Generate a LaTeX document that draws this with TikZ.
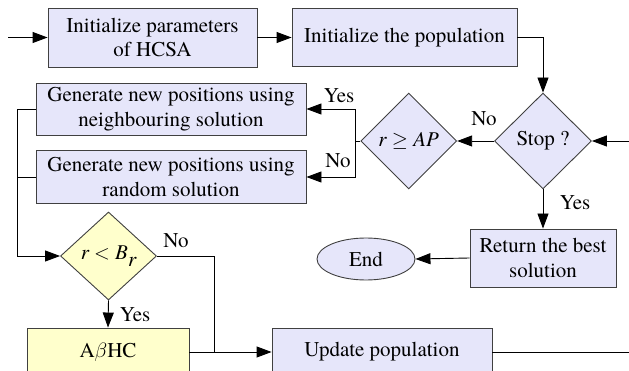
\documentclass[tikz,border=0pt]{standalone}
\usepackage{fontspec}
\setmainfont{texgyretermes}[Extension=.otf, UprightFont=*-regular,
  ItalicFont=*-italic, BoldFont=*-bold, BoldItalicFont=*-bolditalic]
\usetikzlibrary{shapes.geometric,arrows.meta}
\definecolor{boxfill}{RGB}{230,230,250}
\definecolor{yelfill}{RGB}{255,255,204}
\definecolor{edge}{RGB}{64,64,64}
\tikzset{
  base/.style={draw=edge, line width=0.9pt, inner sep=0pt, align=center,
    font=\fontsize{21}{24.5}\selectfont},
  procbox/.style={base, rectangle, fill=boxfill},
  yelbox/.style={base, rectangle, fill=yelfill},
  decide/.style={base, diamond, fill=boxfill},
  yeldecide/.style={base, diamond, fill=yelfill},
  term/.style={base, ellipse, fill=boxfill},
  lbl/.style={font=\fontsize{21}{24.5}\selectfont, inner sep=0pt, anchor=base},
  flow/.style={line width=0.9pt, -{Triangle[length=15pt,width=11pt]}},
  wire/.style={line width=0.9pt}
}
\begin{document}
\begin{tikzpicture}[x=1pt,y=-1pt]
\useasboundingbox (0,0) rectangle (629,371);
\clip (0,0) rectangle (629,371);

% process boxes
\node[procbox, minimum width=209pt, minimum height=59pt] (init) at (152.5,37.5) {Initialize parameters\\of HCSA};
\node[procbox, minimum width=225pt, minimum height=58pt] (pop) at (404.5,37.5) {Initialize the population};
\node[procbox, minimum width=270pt, minimum height=52pt] (neigh) at (171,109) {Generate new positions using\\neighbouring solution};
\node[procbox, minimum width=270pt, minimum height=53pt] (rand) at (171,177) {Generate new positions using\\random solution};
\node[procbox, minimum width=146pt, minimum height=58pt] (best) at (543,258) {Return the best\\solution};
\node[procbox, minimum width=220pt, minimum height=48pt] (upd) at (382,352) {Update population};
\node[yelbox, minimum width=162pt, minimum height=48pt] (abhc) at (108,352) {A$\beta$HC};

% decisions and terminal
\node[decide, minimum width=97pt, minimum height=96pt] (stop) at (543,141) {Stop ?};
\node[decide, minimum width=96pt, minimum height=96pt] (rap) at (408.7,141) {{\itshape r} $\geq$ {\itshape AP}};
\node[yeldecide, minimum width=96pt, minimum height=88pt] (rb) at (108.5,256) {{\itshape r} $<$ {\itshape B}\raisebox{-7pt}{\itshape r}};
\node[term, minimum width=98pt, minimum height=42pt] (endn) at (366,259) {End};

% free ends and junctions
\coordinate (start) at (8,37.5);
\coordinate (loopin) at (629,141);
\coordinate (loopout) at (629,352);
\coordinate (split) at (355,141);
\coordinate (collect) at (17,256);
\coordinate (merge) at (214,352);

% connectors
\draw[flow] (start) -- (init.west);
\draw[flow] (init.east) -- (pop.west);
\draw[flow] (pop.east) -| (stop.north);
\draw[flow] (loopin) -- (stop.east);
\draw[flow] (stop.west) -- (rap.east);
\draw[wire] (rap.west) -- (split);
\draw[flow] (split) |- (neigh.east);
\draw[flow] (split) |- (rand.east);
\draw[flow] (stop.south) -- (best.north);
\draw[flow] (best.west) -- (endn.east);
\draw[flow] (neigh.west) -| (collect) -- (rb.west);
\draw[wire] (rand.west) -- (rand.west -| collect);
\draw[flow] (rb.south) -- (abhc.north);
\draw[wire] (rb.east) -| (merge);
\draw[flow] (abhc.east) -- (upd.west);
\draw[wire] (upd.east) -- (loopout);

% branch labels
\node[lbl] (lno1) at (484,126) {No};
\node[lbl] (lyes1) at (575,210) {Yes};
\node[lbl] (lyes2) at (339,103) {Yes};
\node[lbl] (lno2) at (338,168) {No};
\node[lbl] (lno3) at (176,248) {No};
\node[lbl] (lyes3) at (135,321.5) {Yes};
\end{tikzpicture}
\end{document}
